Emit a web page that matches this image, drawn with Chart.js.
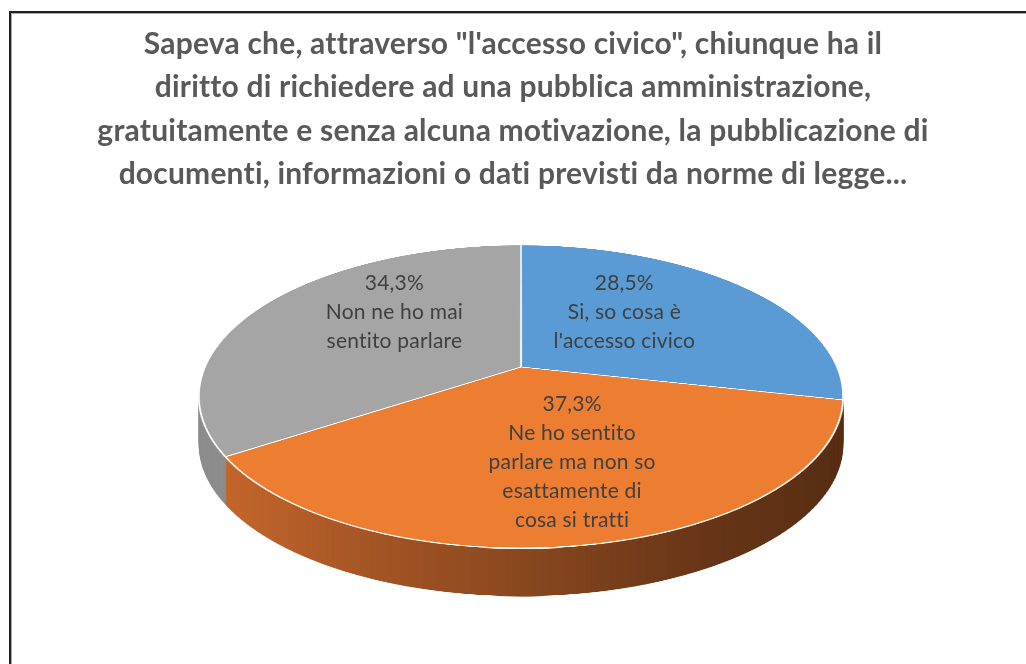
<!DOCTYPE html>
<html>
<head>
<meta charset="utf-8">
<script src="https://cdn.jsdelivr.net/npm/chart.js@4.4.1/dist/chart.umd.min.js"></script>
<style>
  html, body { margin: 0; padding: 0; background: #fff; }
  #wrap { width: 1026px; height: 664px; position: relative; }
</style>
</head>
<body>
<div id="wrap"><canvas id="pie"></canvas></div>
<script>
const titleLines = [
  'Sapeva che, attraverso "l\'accesso civico", chiunque ha il',
  'diritto di richiedere ad una pubblica amministrazione,',
  'gratuitamente e senza alcuna motivazione, la pubblicazione di',
  'documenti, informazioni o dati previsti da norme di legge...'
];
const categories = [
  ['Si, so cosa è', "l'accesso civico"],
  ['Ne ho sentito', 'parlare ma non so', 'esattamente di', 'cosa si tratti'],
  ['Non ne ho mai', 'sentito parlare']
];
const values = [28.5, 37.3, 34.3];
const topColors = ['#5B9BD5', '#ED7D31', '#A5A5A5'];
const sideColors = ['#41719C', '#C5672D', '#8E8E8E'];

// tilted disc: hub position, half axes, perspective factor, thickness
const view = { cx: 521, hubY: 367, rx: 316, ry: 145.8, k: 0.195, depth: 48 };
// small label nudges, like Excel's own label placement on a 3D pie
const labelShift = [[0, 0], [22, 2], [-8, -11]];
const SS = 2;

function zAt(y) {
  const t = (view.hubY - y) / view.ry;
  return t / (1 - view.k * t);
}

function project(X, Z) {
  const d = 1 + view.k * Z;
  return { x: view.cx + view.rx * X / d, y: view.hubY - view.ry * Z / d };
}

function paintArcs(chart, meta, override) {
  const c = document.createElement('canvas');
  c.width = chart.width * SS;
  c.height = chart.height * SS;
  const g = c.getContext('2d');
  g.scale(SS, SS);
  meta.data.forEach((arc, i) => {
    const saved = arc.options;
    arc.options = Object.assign({}, saved, override ? override(i) : {});
    arc.draw(g);
    arc.options = saved;
  });
  return c;
}

// map the flat pie row by row onto the tilted disc
function warpDisc(src, arc, dst, shiftY) {
  const R = arc.outerRadius, ox = arc.x, oy = arc.y;
  const top = Math.floor(view.hubY - view.ry / (1 + view.k));
  const bottom = Math.ceil(view.hubY + view.ry / (1 - view.k));
  for (let y = top; y < bottom; y++) {
    const z0 = Math.min(1, zAt(y));
    const z1 = Math.max(-1, zAt(y + 1));
    if (z0 <= z1) continue;
    const zc = (z0 + z1) / 2;
    const s = view.rx / (R * (1 + view.k * zc));
    const sy = (oy - z0 * R) * SS;
    const sh = (z0 - z1) * R * SS;
    dst.drawImage(src, 0, sy, src.width, sh, view.cx - ox * s, y + shiftY, (src.width / SS) * s, 1);
  }
}

const tiltPlugin = {
  id: 'tilt',
  beforeDraw(chart) {
    const ctx = chart.ctx;
    ctx.save();
    ctx.fillStyle = '#ffffff';
    ctx.fillRect(0, 0, chart.width, chart.height);
    ctx.fillStyle = '#1e1e1e';
    ctx.fillRect(9, 11, 2, chart.height);
    ctx.fillRect(9, 11, chart.width, 2);
    ctx.fillStyle = '#a8a8a8';
    ctx.fillRect(11, 13, 1, chart.height);
    ctx.fillRect(11, 13, chart.width, 1);
    ctx.restore();
    // a tiny spacing keeps the "ti" pairs as separate letters
    if ('letterSpacing' in ctx) ctx.letterSpacing = '0.2px';
  },
  beforeDatasetsDraw(chart) {
    const meta = chart.getDatasetMeta(0);
    const arc0 = meta.data[0];
    const ctx = chart.ctx;

    const sideSrc = paintArcs(chart, meta, i => ({ backgroundColor: sideColors[i], borderWidth: 0 }));
    const side = document.createElement('canvas');
    side.width = chart.width;
    side.height = chart.height;
    const sc = side.getContext('2d');
    warpDisc(sideSrc, arc0, sc, 0);
    sc.globalCompositeOperation = 'source-atop';
    const shade = sc.createLinearGradient(view.cx - view.rx, 0, view.cx + view.rx, 0);
    shade.addColorStop(0.0, 'rgba(0,0,0,0)');
    shade.addColorStop(0.05, 'rgba(0,0,0,0.02)');
    shade.addColorStop(0.28, 'rgba(0,0,0,0.18)');
    shade.addColorStop(0.5, 'rgba(0,0,0,0.30)');
    shade.addColorStop(0.78, 'rgba(0,0,0,0.47)');
    shade.addColorStop(1.0, 'rgba(0,0,0,0.55)');
    sc.fillStyle = shade;
    sc.fillRect(0, 0, side.width, side.height);

    for (let d = view.depth; d >= 1; d--) {
      ctx.drawImage(side, 0, d);
    }

    const topSrc = paintArcs(chart, meta, null);
    warpDisc(topSrc, arc0, ctx, 0);
    return false;
  },
  afterDraw(chart) {
    const meta = chart.getDatasetMeta(0);
    const ctx = chart.ctx;
    ctx.save();
    ctx.fillStyle = '#404040';
    ctx.font = '21px Lato';
    ctx.textAlign = 'center';
    ctx.textBaseline = 'middle';
    const lh = 29;
    meta.data.forEach((arc, i) => {
      const mid = (arc.startAngle + arc.endAngle) / 2;
      const p = project(0.45 * Math.cos(mid), -0.6 * Math.sin(mid));
      const lines = [values[i].toFixed(1).replace('.', ',') + '%'].concat(categories[i]);
      const y0 = p.y - 4 + labelShift[i][1] - (lines.length - 1) * lh / 2;
      lines.forEach((t, j) => ctx.fillText(t, p.x + labelShift[i][0], y0 + j * lh));
    });
    ctx.restore();
  }
};

new Chart(document.getElementById('pie'), {
  type: 'pie',
  data: {
    labels: categories,
    datasets: [{
      data: values,
      backgroundColor: topColors,
      borderColor: '#ffffff',
      borderWidth: 1.2
    }]
  },
  options: {
    responsive: true,
    maintainAspectRatio: false,
    animation: false,
    events: [],
    plugins: {
      legend: { display: false },
      tooltip: { enabled: false },
      title: {
        display: true,
        text: titleLines,
        color: '#595959',
        font: { family: 'Lato', size: 30, weight: 'bold', lineHeight: 1.44 },
        padding: { top: 23, bottom: 10 }
      }
    }
  },
  plugins: [tiltPlugin]
});
</script>
</body>
</html>
